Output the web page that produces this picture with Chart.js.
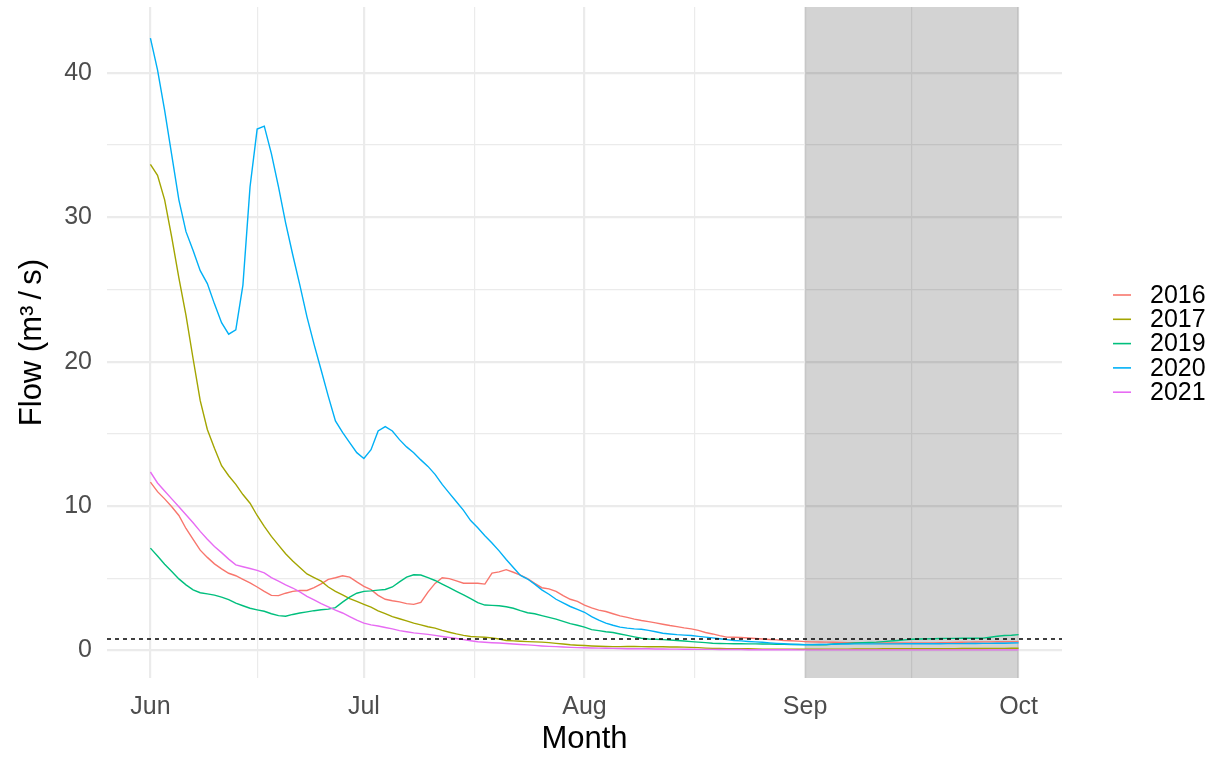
<!DOCTYPE html>
<html>
<head>
<meta charset="utf-8">
<script src="https://cdn.jsdelivr.net/npm/chart.js@4.4.1/dist/chart.umd.min.js"></script>
<style>
  html, body { margin: 0; padding: 0; background: #ffffff; }
  canvas { display: block; }
</style>
</head>
<body>
<canvas id="flowChart" width="1217" height="759"></canvas>
<script>
// Daily mean flow (m³/s), 1 June to 1 October, one array per year
const years = ['2016', '2017', '2019', '2020', '2021'];
const colors = ['#F8766D', '#A3A500', '#00BF7D', '#00B0F6', '#E76BF3'];

const flow2016 = [
  11.66, 11.0, 10.5, 9.95, 9.35, 8.45, 7.7, 6.95, 6.45, 6.0,
  5.65, 5.35, 5.18, 4.93, 4.68, 4.4, 4.1, 3.82, 3.8, 3.97,
  4.1, 4.16, 4.16, 4.35, 4.62, 4.93, 5.04, 5.18, 5.08, 4.75,
  4.45, 4.22, 3.82, 3.55, 3.45, 3.37, 3.25, 3.2, 3.33, 4.05,
  4.65, 5.04, 4.98, 4.82, 4.66, 4.66, 4.66, 4.6, 5.36, 5.45,
  5.6, 5.42, 5.22, 4.98, 4.65, 4.35, 4.27, 4.1, 3.8, 3.55,
  3.4, 3.15, 2.95, 2.8, 2.7, 2.55, 2.4, 2.3, 2.18, 2.08,
  2.0, 1.92, 1.82, 1.73, 1.66, 1.57, 1.5, 1.4, 1.25, 1.15,
  1.03, 0.93, 0.92, 0.9, 0.87, 0.83, 0.8, 0.77, 0.74, 0.7,
  0.68, 0.65, 0.62,
  0.6, 0.59, 0.58, 0.57, 0.56, 0.55, 0.54, 0.53, 0.53, 0.52,
  0.52, 0.52, 0.52, 0.52, 0.52, 0.53, 0.53, 0.53, 0.54, 0.55,
  0.56, 0.57, 0.58, 0.59, 0.6, 0.6, 0.61, 0.61, 0.62, 0.62
];

const flow2017 = [
  33.66, 32.9, 31.2, 28.6, 25.8, 23.2, 20.2, 17.3, 15.3, 14.0,
  12.8, 12.1, 11.5, 10.8, 10.2, 9.35, 8.6, 7.9, 7.3, 6.7,
  6.2, 5.75, 5.3, 5.05, 4.8, 4.4, 4.1, 3.85, 3.6, 3.4,
  3.2, 3.0, 2.75, 2.55, 2.35, 2.2, 2.05, 1.9, 1.78, 1.65,
  1.55, 1.4, 1.27, 1.15, 1.05, 0.97, 0.95, 0.92, 0.88, 0.8,
  0.7, 0.67, 0.64, 0.62, 0.6, 0.58, 0.55, 0.5, 0.45, 0.4,
  0.37, 0.35, 0.32, 0.3, 0.28, 0.27, 0.27, 0.28, 0.28, 0.27,
  0.26, 0.26, 0.26, 0.25, 0.25, 0.24, 0.22, 0.2, 0.17, 0.15,
  0.14, 0.13, 0.12, 0.12, 0.12, 0.11, 0.1, 0.1, 0.1, 0.09,
  0.09, 0.09, 0.09,
  0.09, 0.09, 0.1, 0.1, 0.1, 0.1, 0.11, 0.11, 0.11, 0.11,
  0.12, 0.12, 0.12, 0.12, 0.12, 0.12, 0.12, 0.13, 0.13, 0.13,
  0.13, 0.14, 0.14, 0.14, 0.14, 0.15, 0.15, 0.15, 0.16, 0.16
];

const flow2019 = [
  7.09, 6.55, 5.98, 5.48, 4.96, 4.55, 4.2, 4.0, 3.92, 3.84,
  3.7, 3.52, 3.28, 3.1, 2.93, 2.82, 2.72, 2.55, 2.42, 2.38,
  2.5, 2.6, 2.68, 2.76, 2.82, 2.87, 2.97, 3.35, 3.7, 3.97,
  4.1, 4.13, 4.18, 4.23, 4.4, 4.75, 5.08, 5.25, 5.23, 5.05,
  4.85, 4.6, 4.35, 4.1, 3.85, 3.6, 3.32, 3.15, 3.13, 3.1,
  3.03, 2.93, 2.76, 2.62, 2.55, 2.42, 2.3, 2.18, 2.02, 1.86,
  1.75, 1.62, 1.45, 1.38, 1.3, 1.25, 1.15, 1.05, 0.95, 0.85,
  0.8, 0.78, 0.76, 0.73, 0.7, 0.66, 0.62, 0.58, 0.55, 0.51,
  0.49, 0.48, 0.47, 0.47, 0.46, 0.46, 0.45, 0.45, 0.44, 0.43,
  0.42, 0.42, 0.41,
  0.4, 0.39, 0.4, 0.45, 0.48, 0.5, 0.52, 0.55, 0.56, 0.58,
  0.62, 0.66, 0.7, 0.74, 0.78, 0.8, 0.81, 0.82, 0.83, 0.84,
  0.84, 0.85, 0.85, 0.85, 0.86, 0.92, 0.99, 1.04, 1.06, 1.1
];

const flow2020 = [
  42.4, 40.2, 37.4, 34.3, 31.2, 29.0, 27.7, 26.3, 25.4, 24.0,
  22.7, 21.9, 22.2, 25.3, 32.1, 36.1, 36.3, 34.4, 32.1, 29.6,
  27.4, 25.3, 23.1, 21.2, 19.4, 17.6, 15.9, 15.1, 14.4, 13.7,
  13.3, 13.9, 15.2, 15.5, 15.2, 14.6, 14.1, 13.7, 13.2, 12.75,
  12.2, 11.5, 10.9, 10.3, 9.7, 9.0, 8.5, 7.95, 7.45, 6.9,
  6.3, 5.75, 5.2, 4.95, 4.6, 4.2, 3.9, 3.55, 3.3, 3.05,
  2.85, 2.65, 2.35, 2.1, 1.9, 1.75, 1.62, 1.55, 1.5, 1.47,
  1.4, 1.3, 1.2, 1.15, 1.1, 1.07, 1.04, 0.98, 0.93, 0.88,
  0.82, 0.76, 0.7, 0.67, 0.63, 0.6, 0.57, 0.53, 0.5, 0.47,
  0.44, 0.42, 0.4,
  0.41, 0.42, 0.43, 0.44, 0.45, 0.45, 0.46, 0.46, 0.46, 0.46,
  0.46, 0.46, 0.46, 0.47, 0.47, 0.47, 0.47, 0.47, 0.47, 0.48,
  0.48, 0.48, 0.49, 0.49, 0.5, 0.5, 0.51, 0.51, 0.52, 0.53
];

const flow2021 = [
  12.36, 11.6, 11.05, 10.5, 9.95, 9.4, 8.85, 8.25, 7.7, 7.2,
  6.78, 6.33, 5.93, 5.8, 5.68, 5.55, 5.38, 5.05, 4.8, 4.55,
  4.33, 4.06, 3.75, 3.5, 3.25, 3.03, 2.8, 2.6, 2.35, 2.1,
  1.9, 1.78, 1.7, 1.6, 1.5, 1.38, 1.3, 1.22, 1.17, 1.12,
  1.05, 0.97, 0.9, 0.83, 0.76, 0.68, 0.61, 0.57, 0.54, 0.52,
  0.49, 0.45, 0.42, 0.39, 0.36, 0.32, 0.29, 0.27, 0.25, 0.22,
  0.2, 0.19, 0.18, 0.17, 0.16, 0.15, 0.14, 0.13, 0.13, 0.12,
  0.12, 0.11, 0.11, 0.1, 0.1, 0.09, 0.09, 0.08, 0.08, 0.08,
  0.07, 0.07, 0.07, 0.07, 0.06, 0.06, 0.06, 0.06, 0.06, 0.06,
  0.06, 0.05, 0.05,
  0.05, 0.05, 0.05, 0.05, 0.05, 0.05, 0.05, 0.05, 0.05, 0.05,
  0.05, 0.05, 0.05, 0.05, 0.05, 0.05, 0.05, 0.05, 0.05, 0.05,
  0.05, 0.05, 0.05, 0.05, 0.05, 0.05, 0.05, 0.05, 0.05, 0.05
];

const seriesValues = [flow2016, flow2017, flow2019, flow2020, flow2021];

// Day offsets from 1 June; month starts carry the axis labels
const monthStarts = [0, 30, 61, 92, 122];
const monthLabels = ['Jun', 'Jul', 'Aug', 'Sep', 'Oct'];
const monthMids = [15, 45.5, 76.5, 107];
const yMajorTicks = [0, 10, 20, 30, 40];
const yMinorTicks = [5, 15, 25, 35];

// Low-flow threshold and the shaded September window
const threshold = 0.8;
const shadeFrom = 92;
const shadeTo = 122;

const xMin = -6.1, xMax = 128.1;
const yMin = -1.9, yMax = 44.55;

const FONT = "'Liberation Sans', Arial, Helvetica, sans-serif";
Chart.defaults.font.family = FONT;

const lineSets = years.map((yr, i) => ({
  label: yr,
  data: seriesValues[i].map((v, d) => ({ x: d, y: v })),
  borderColor: colors[i],
  backgroundColor: colors[i],
  borderWidth: 1.4,
  pointRadius: 0,
  tension: 0,
  fill: false,
  order: years.length - i
}));

const thresholdSet = {
  label: 'threshold',
  data: [{ x: xMin, y: threshold }, { x: xMax, y: threshold }],
  borderColor: '#000000',
  borderWidth: 1.3,
  borderDash: [4, 4],
  pointRadius: 0,
  order: 0
};

const shadePlugin = {
  id: 'septemberShade',
  beforeDatasetsDraw(chart) {
    const { ctx, chartArea, scales } = chart;
    const x0 = scales.x.getPixelForValue(shadeFrom);
    const x1 = scales.x.getPixelForValue(shadeTo);
    ctx.save();
    ctx.fillStyle = 'rgba(0,0,0,0.172)';
    ctx.fillRect(x0, chartArea.top, x1 - x0, chartArea.bottom - chartArea.top);
    ctx.restore();
  }
};

const legendPlugin = {
  id: 'yearLegend',
  afterDraw(chart) {
    const { ctx } = chart;
    const keyX0 = 1113, keyX1 = 1131, textX = 1150, top = 295, step = 24.3;
    ctx.save();
    ctx.font = '25px ' + FONT;
    ctx.textBaseline = 'middle';
    ctx.textAlign = 'left';
    years.forEach((yr, i) => {
      const y = top + i * step;
      ctx.strokeStyle = colors[i];
      ctx.lineWidth = 1.6;
      ctx.beginPath();
      ctx.moveTo(keyX0, y);
      ctx.lineTo(keyX1, y);
      ctx.stroke();
      ctx.fillStyle = '#000000';
      ctx.fillText(yr, textX, y + 1);
    });
    ctx.restore();
  }
};

new Chart(document.getElementById('flowChart'), {
  type: 'line',
  data: { datasets: [thresholdSet, ...lineSets] },
  options: {
    responsive: false,
    animation: false,
    devicePixelRatio: 1,
    layout: { padding: { top: 7, right: 155, left: 0, bottom: 0 } },
    plugins: { legend: { display: false }, tooltip: { enabled: false } },
    scales: {
      x: {
        type: 'linear',
        min: xMin,
        max: xMax,
        afterBuildTicks(scale) {
          scale.ticks = [...monthStarts, ...monthMids].sort((a, b) => a - b).map(v => ({ value: v }));
        },
        afterFit(scale) {
          scale.height = 81;
          scale.paddingLeft = 0;
          scale.paddingRight = 0;
        },
        ticks: {
          autoSkip: false,
          maxRotation: 0,
          padding: 14,
          color: '#4D4D4D',
          font: { size: 25 },
          callback(v) {
            const k = monthStarts.indexOf(v);
            return k >= 0 ? monthLabels[k] : '';
          }
        },
        grid: {
          color: '#EBEBEB',
          drawTicks: false,
          lineWidth: ctx => (ctx.tick && monthStarts.includes(ctx.tick.value)) ? 2.2 : 1.2
        },
        border: { display: false },
        title: {
          display: true,
          text: 'Month',
          color: '#000000',
          font: { size: 31 },
          padding: { top: 0, bottom: 1 }
        }
      },
      y: {
        type: 'linear',
        min: yMin,
        max: yMax,
        afterBuildTicks(scale) {
          scale.ticks = [...yMajorTicks, ...yMinorTicks].sort((a, b) => a - b).map(v => ({ value: v }));
        },
        afterFit(scale) {
          scale.width = 107;
          scale.paddingTop = 0;
          scale.paddingBottom = 0;
        },
        ticks: {
          padding: 15,
          color: '#4D4D4D',
          font: { size: 25 },
          callback(v) { return yMajorTicks.includes(v) ? String(v) : ''; }
        },
        grid: {
          color: '#EBEBEB',
          drawTicks: false,
          lineWidth: ctx => (ctx.tick && yMajorTicks.includes(ctx.tick.value)) ? 2.2 : 1.2
        },
        border: { display: false },
        title: {
          display: true,
          text: 'Flow (m³\u2009/\u2009s)',
          color: '#000000',
          font: { size: 31 },
          padding: { top: 14, bottom: 0 }
        }
      }
    }
  },
  plugins: [shadePlugin, legendPlugin]
});
</script>
</body>
</html>
